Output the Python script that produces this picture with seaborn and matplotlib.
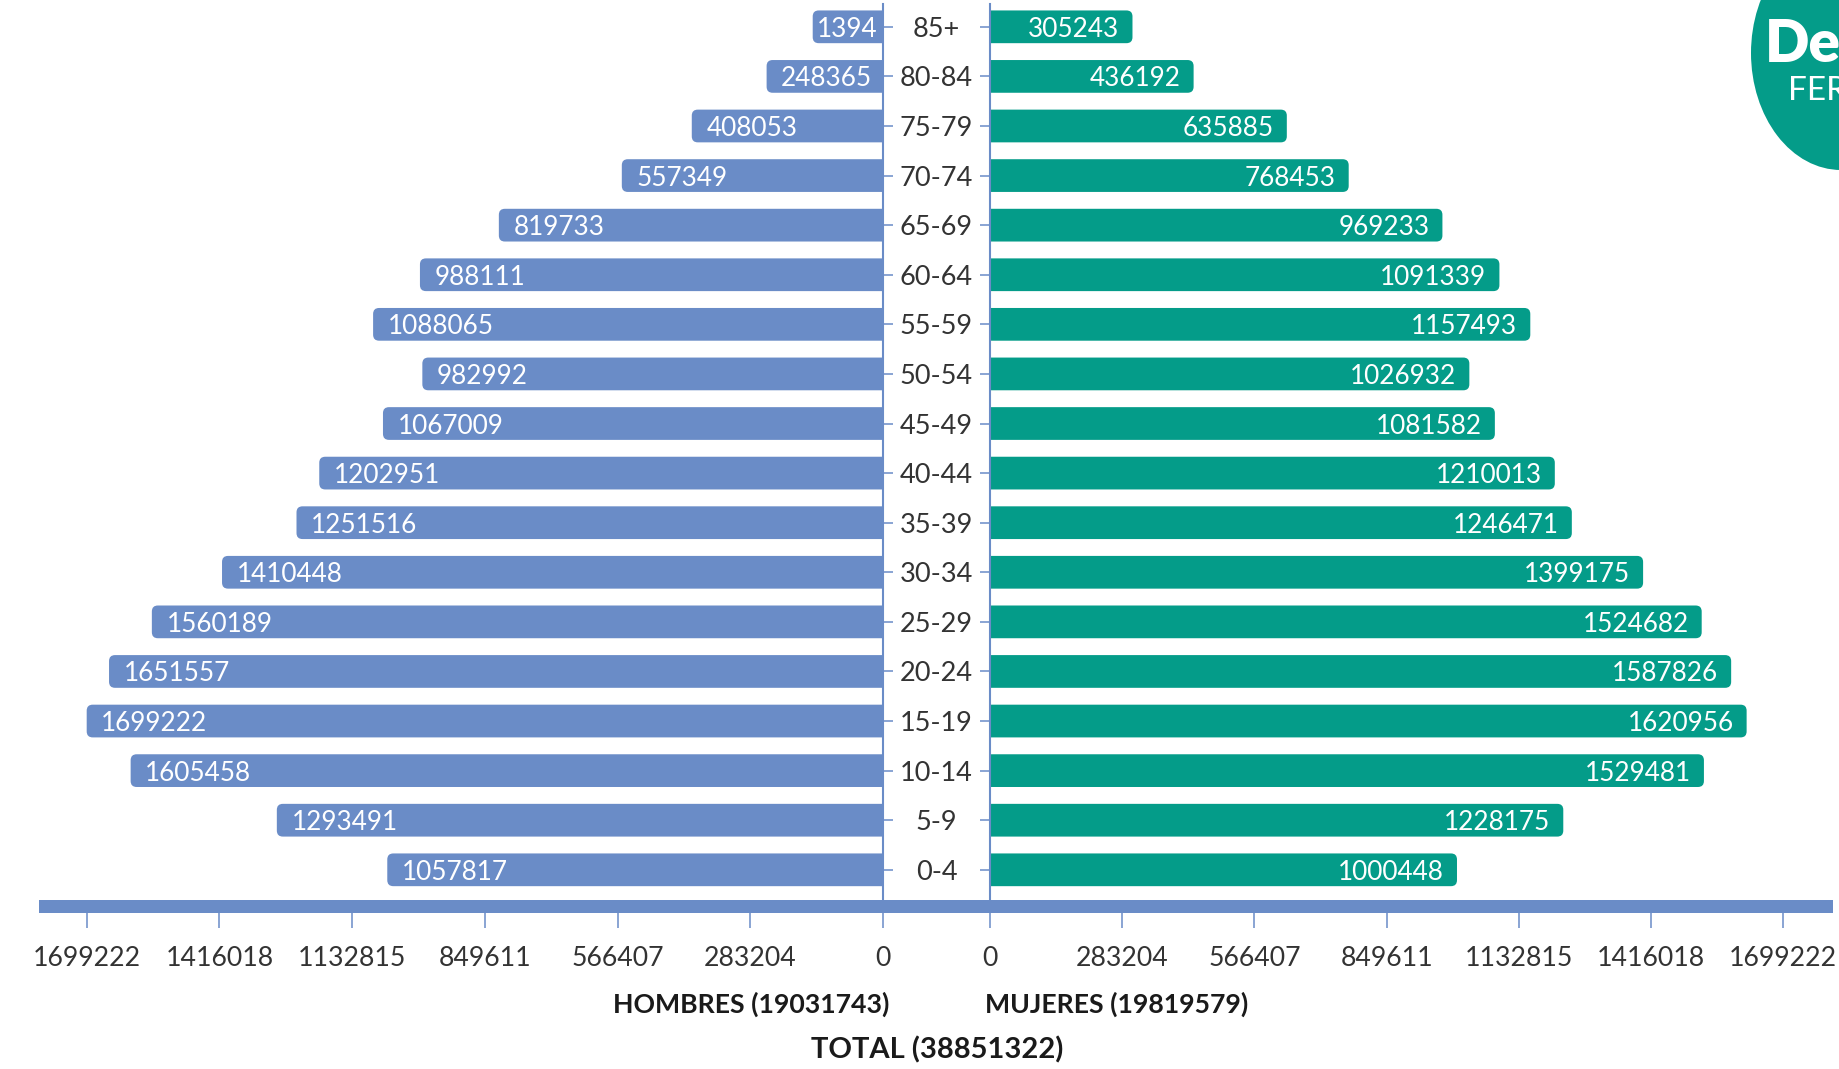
import numpy as np
import pandas as pd
import matplotlib.pyplot as plt
import seaborn as sns
from matplotlib.patches import FancyBboxPatch, Rectangle, Ellipse
from matplotlib.transforms import blended_transform_factory

# Data
ages = ['85+', '80-84', '75-79', '70-74', '65-69', '60-64', '55-59', '50-54', '45-49',
        '40-44', '35-39', '30-34', '25-29', '20-24', '15-19', '10-14', '5-9', '0-4']
hombres = [1394, 248365, 408053, 557349, 819733, 988111, 1088065, 982992, 1067009,
           1202951, 1251516, 1410448, 1560189, 1651557, 1699222, 1605458, 1293491, 1057817]
mujeres = [305243, 436192, 635885, 768453, 969233, 1091339, 1157493, 1026932, 1081582,
           1210013, 1246471, 1399175, 1524682, 1587826, 1620956, 1529481, 1228175, 1000448]
x_ticks = [0, 283204, 566407, 849611, 1132815, 1416018, 1699222]
total_hombres = 19031743
total_mujeres = 19819579
total = 38851322

BLUE = '#6a8cc7'
GREEN = '#049c89'
TEXT = '#333333'
XMAX_L = 1801000
XMAX_R = 1806000
MIN_BAR = 150000   # short bars are stretched so their label fits
YLIM = (17.74, -0.46)

sns.set_theme(style='white')
plt.rcParams['font.family'] = ['Lato', 'DejaVu Sans']

W, H = 1839, 1069
fig = plt.figure(figsize=(W / 100, H / 100), dpi=100)


def px_box(x0, x1, y0, y1):
    return [x0 / W, 1 - y1 / H, (x1 - x0) / W, (y1 - y0) / H]


ax_l = fig.add_axes(px_box(39, 883, 4, 906.5))
ax_r = fig.add_axes(px_box(990, 1833, 4, 906.5))

df = pd.DataFrame({'edad': ages, 'hombres': hombres, 'mujeres': mujeres})
df['hombres_draw'] = np.maximum(df['hombres'], MIN_BAR)

sns.barplot(data=df, y='edad', x='hombres_draw', order=ages, color=BLUE, width=0.66,
            saturation=1, errorbar=None, ax=ax_l)
sns.barplot(data=df, y='edad', x='mujeres', order=ages, color=GREEN, width=0.66,
            saturation=1, errorbar=None, ax=ax_r)

ax_l.set_xlim(XMAX_L, 0)
ax_r.set_xlim(0, XMAX_R)
for ax in (ax_l, ax_r):
    ax.set_ylim(*YLIM)
    ax.set_xlabel('')
    ax.set_ylabel('')
    ax.set_xticks(x_ticks)
    ax.set_xticklabels([str(t) for t in x_ticks])
    ax.tick_params(axis='x', bottom=True, direction='out', length=14.8, width=1.1,
                   color=BLUE, pad=14, labelsize=19.2, labelcolor=TEXT)
    for s in ax.spines.values():
        s.set_visible(False)


def round_bars(ax, color, xmax, r_px=6, ext_px=14):
    bb = ax.get_position()
    x_per_px = xmax / (bb.width * W)
    y_per_px = (YLIM[0] - YLIM[1]) / (bb.height * H)
    for p in list(ax.patches):
        x, y, w, h = p.get_x(), p.get_y(), p.get_width(), p.get_height()
        p.remove()
        ext = ext_px * x_per_px
        ax.add_patch(FancyBboxPatch(
            (x - ext, y), w + ext, h,
            boxstyle=f'round,pad=0,rounding_size={r_px * x_per_px}',
            mutation_aspect=y_per_px / x_per_px, fc=color, ec='none', lw=0))


round_bars(ax_l, BLUE, XMAX_L)
round_bars(ax_r, GREEN, XMAX_R)

# zero lines and small y ticks
ax_l.spines['right'].set_visible(True)
ax_l.spines['right'].set_color(BLUE)
ax_l.spines['right'].set_linewidth(1.5)
ax_l.yaxis.tick_right()
ax_l.tick_params(axis='y', direction='out', length=7.2, width=1.1, color=BLUE,
                 labelright=False, labelleft=False)
ax_r.spines['left'].set_visible(True)
ax_r.spines['left'].set_color(BLUE)
ax_r.spines['left'].set_linewidth(1.5)
ax_r.yaxis.tick_left()
ax_r.tick_params(axis='y', direction='out', length=7.2, width=1.1, color=BLUE,
                 labelleft=False)

# value labels
for i, v in enumerate(hombres):
    if v >= MIN_BAR:
        ax_l.annotate(str(v), xy=(v, i), xytext=(10.5, 0), textcoords='offset points',
                      ha='left', va='center_baseline', color='white', fontsize=18.8)
    else:
        ax_l.annotate(str(v), xy=(0, i), xytext=(-4, 0), textcoords='offset points',
                      ha='right', va='center_baseline', color='white', fontsize=18.8)
for i, v in enumerate(mujeres):
    ax_r.annotate(str(v), xy=(v, i), xytext=(-9.4, 0), textcoords='offset points',
                  ha='right', va='center_baseline', color='white', fontsize=18.8)

# age group labels in the gap
tr = blended_transform_factory(fig.transFigure, ax_l.transData)
for i, a in enumerate(ages):
    ax_l.text(936.5 / W, i, a, transform=tr, ha='center', va='center_baseline',
              fontsize=19.5, color=TEXT, clip_on=False)

# thick base line across both panels
fig.add_artist(Rectangle((39 / W, 1 - 913 / H), (1833 - 39) / W, 13 / H,
                         transform=fig.transFigure, color=BLUE, lw=0))

fig.text(889 / W, 1 - 1013 / H, f'HOMBRES ({total_hombres})', ha='right', va='baseline',
         fontsize=19.2, fontweight='bold', color='#1a1a1a')
fig.text(985 / W, 1 - 1013 / H, f'MUJERES ({total_mujeres})', ha='left', va='baseline',
         fontsize=19.2, fontweight='bold', color='#1a1a1a')
fig.text(937 / W, 1 - 1058 / H, f'TOTAL ({total})', ha='center', va='baseline',
         fontsize=21, fontweight='bold', color='#1a1a1a')

# logo corner
fig.add_artist(Ellipse((1841 / W, 1 - 53 / H), 180 / W, 234 / H,
                       transform=fig.transFigure, color=GREEN, lw=0))
fig.text(1765 / W, 1 - 62 / H, 'De', fontsize=42, fontweight='heavy', color='white',
         va='baseline')
fig.text(1788 / W, 1 - 100 / H, 'FER', fontsize=24, fontweight='normal', color='white',
         va='baseline')

fig.savefig('out.png', dpi=100, facecolor='white')
